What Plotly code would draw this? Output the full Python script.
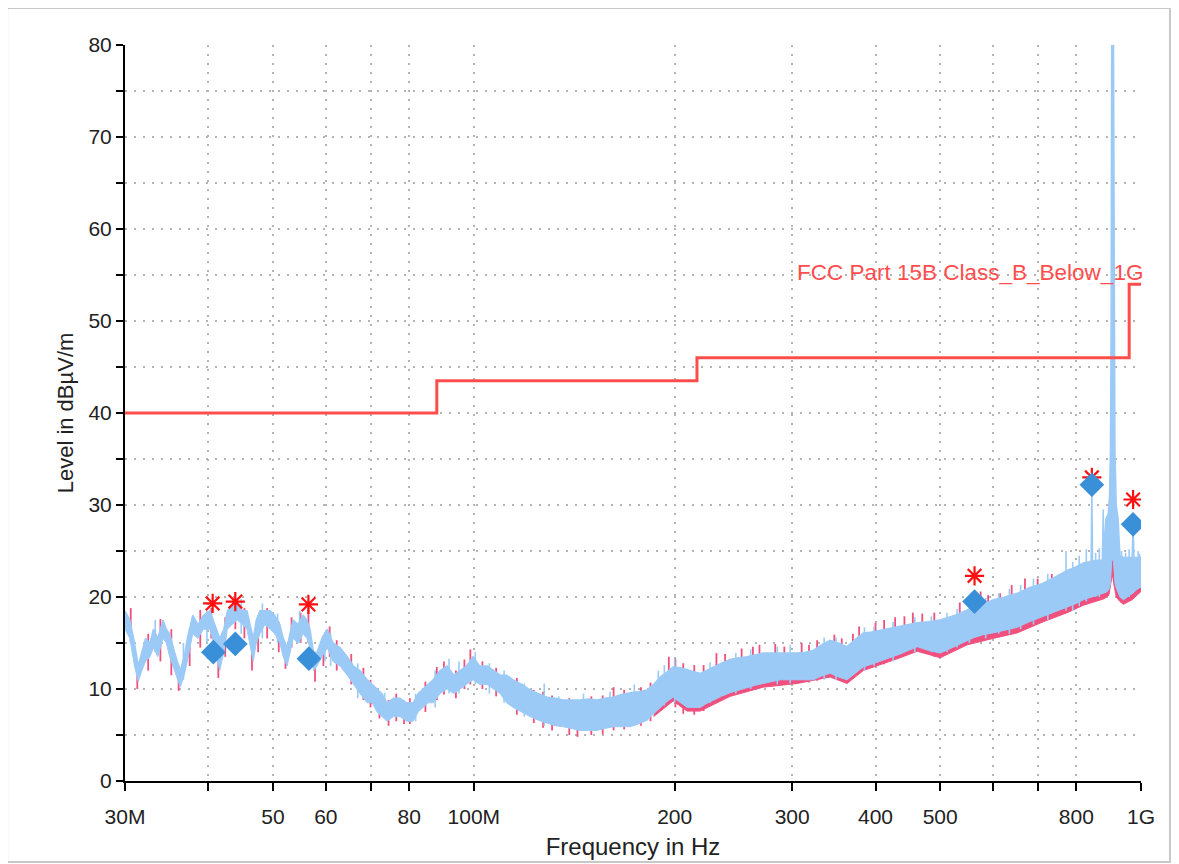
import plotly.graph_objects as go

# ---------------- data (frequency in MHz, level in dBµV/m) ----------------
blue_freq = [30.0, 30.5, 31.0, 31.4, 31.8, 32.2, 32.7, 33.1, 33.6, 34.2,
             34.6, 35.0, 35.6, 36.3, 36.8, 37.2, 37.9, 38.6, 39.3, 40.2,
             40.9, 41.6, 42.2, 42.7, 43.4, 44.2, 45.0, 45.7, 46.7, 47.2,
             47.8, 48.6, 49.5, 50.3, 51.2, 51.8, 52.5, 53.0, 53.6, 54.5,
             55.5, 56.2, 56.8, 57.5, 58.2, 59.2, 60.3, 61.5, 63.0, 64.6,
             66.0, 67.5, 69.2, 70.4, 71.6, 72.8, 74.1, 75.8, 77.5, 79.3,
             81.1, 82.5, 83.9, 85.4, 86.9, 89.0, 91.2, 93.3, 95.4, 97.5,
             99.7, 102.0, 104.7, 107.0, 109.5, 112.0, 114.5, 118.0, 121.4, 125.0,
             128.8, 132.5, 136.1, 140.0, 144.3, 148.5, 153.0, 157.0, 161.7, 166.5,
             171.5, 176.5, 181.9, 186.0, 190.2, 194.5, 198.9, 204.0, 208.8, 213.5,
             218.4, 223.0, 228.4, 235.0, 242.2, 249.5, 256.8, 264.0, 271.5, 280.0,
             287.8, 296.0, 305.2, 314.0, 322.6, 332.0, 342.0, 352.0, 362.6, 373.0,
             383.5, 395.0, 406.6, 420.0, 435.5, 448.0, 461.9, 480.0, 500.1, 525.0,
             548.9, 558.0, 563.0, 568.0, 580.0, 600.4, 625.0, 652.3, 680.0, 713.5,
             745.0, 775.3, 800.0, 819.4, 835.0, 842.0, 844.0, 846.0, 860.0, 875.0,
             877.9, 880.0, 886.0, 893.0, 897.0, 900.0, 902.0, 904.0, 909.0, 911.0,
             914.0, 918.0, 924.0, 930.0, 940.9, 955.0, 970.0, 973.0, 976.0, 985.0,
             1000.0]
blue_hi = [18.5, 17.5, 15.0, 12.5, 14.0, 15.5, 15.0, 16.5, 15.5, 17.5,
           16.5, 16.0, 14.0, 12.0, 13.5, 15.5, 18.0, 17.0, 18.0, 18.5,
           17.0, 15.5, 16.5, 18.5, 19.0, 19.5, 18.5, 18.5, 15.5, 17.5,
           18.5, 18.5, 18.5, 18.0, 17.0, 15.5, 14.5, 16.0, 17.5, 17.0,
           18.0, 17.5, 16.5, 14.0, 14.0, 15.5, 16.5, 15.0, 14.5, 13.5,
           12.5, 12.0, 11.0, 10.5, 10.0, 9.5, 8.5, 9.0, 9.0, 8.5,
           8.5, 9.5, 10.0, 10.5, 11.0, 12.0, 12.5, 11.5, 12.0, 12.5,
           13.5, 12.5, 12.5, 12.0, 11.5, 11.5, 11.0, 10.5, 9.9, 9.5,
           9.1, 9.0, 8.8, 8.8, 8.8, 8.9, 8.8, 9.0, 9.1, 9.4,
           9.6, 9.7, 9.9, 10.5, 11.3, 11.8, 12.4, 12.3, 12.1, 11.9,
           11.7, 12.0, 12.4, 12.8, 13.2, 13.4, 13.5, 13.7, 13.9, 13.9,
           13.9, 13.9, 13.9, 14.0, 14.2, 14.8, 15.3, 15.0, 14.6, 15.4,
           16.1, 16.2, 16.4, 16.6, 16.8, 17.0, 17.2, 17.3, 17.5, 18.0,
           18.6, 18.8, 19.5, 19.0, 19.2, 19.7, 20.0, 20.4, 21.0, 21.5,
           22.2, 22.9, 23.3, 23.7, 23.8, 23.9, 32.3, 23.9, 24.0, 24.0,
           29.5, 24.5, 28.5, 29.0, 31.0, 36.0, 50.0, 85.0, 85.0, 50.0,
           36.0, 30.0, 28.5, 24.5, 24.3, 24.3, 24.3, 28.0, 24.3, 24.3,
           24.3]
blue_lo = [16.5, 15.5, 12.5, 10.8, 12.0, 13.0, 13.5, 14.5, 13.5, 15.5,
           15.0, 13.5, 12.0, 10.2, 11.5, 13.0, 16.0, 15.5, 16.5, 16.5,
           14.5, 12.0, 14.0, 16.5, 17.0, 17.5, 17.0, 16.5, 13.0, 15.0,
           16.0, 17.0, 16.5, 16.0, 15.0, 13.5, 12.5, 14.0, 15.5, 15.0,
           16.0, 15.5, 14.5, 12.0, 12.5, 13.5, 14.5, 13.0, 12.5, 11.5,
           10.5, 9.5, 8.5, 8.5, 7.5, 7.0, 6.5, 7.0, 7.0, 6.5,
           6.5, 7.5, 8.0, 8.5, 8.5, 9.5, 10.0, 9.5, 10.0, 10.5,
           11.0, 10.5, 10.5, 10.0, 9.5, 8.5, 8.0, 7.5, 7.0, 6.6,
           6.3, 6.0, 5.9, 5.7, 5.5, 5.5, 5.5, 5.7, 5.9, 5.9,
           5.9, 6.2, 6.6, 7.3, 8.0, 8.6, 9.1, 8.5, 8.0, 8.0,
           8.0, 8.4, 8.8, 9.2, 9.6, 9.9, 10.2, 10.4, 10.6, 10.8,
           11.0, 11.0, 11.0, 11.0, 11.0, 11.4, 11.7, 11.3, 11.0, 11.7,
           12.4, 12.7, 13.0, 13.4, 13.8, 14.2, 14.6, 14.2, 13.9, 14.6,
           15.3, 15.5, 15.6, 15.7, 15.9, 16.1, 16.4, 16.7, 17.3, 17.9,
           18.4, 18.9, 19.3, 19.7, 19.9, 20.0, 20.0, 20.0, 20.2, 20.4,
           20.4, 20.4, 20.5, 20.7, 21.0, 21.5, 22.5, 24.0, 24.0, 22.5,
           21.5, 21.0, 20.5, 20.0, 19.7, 20.0, 20.4, 20.4, 20.5, 20.8,
           21.1]

# blue trace: isolated narrow peaks above/below the band
bspike_freq = [33.3, 36.7, 39.8, 44.8, 48.2, 50.8, 54.8, 59.8, 61.0, 67.0,
               73.5, 81.8, 87.5, 91.8, 95.0, 100.5, 105.5, 111.0, 119.0, 127.5,
               134.0, 146.0, 160.0, 174.0, 189.0, 193.0, 200.0, 226.0, 247.0, 260.0,
               285.0, 298.0, 335.0, 349.0, 385.0, 398.0, 425.0, 458.0, 485.0, 512.0,
               530.0, 553.0, 585.0, 612.0, 635.0, 660.0, 690.0, 725.0, 772.0, 790.0,
               808.0, 828.0, 855.0, 866.0, 935.0, 948.0, 960.0, 990.0, 995.0]
bspike_lo = [14.0, 11.0, 15.0, 16.0, 15.5, 15.0, 15.0, 13.0, 12.5, 9.0,
             7.0, 6.5, 8.0, 9.5, 9.5, 10.5, 9.5, 8.5, 7.0, 6.0,
             6.0, 5.5, 5.8, 6.0, 8.0, 8.2, 8.5, 8.5, 9.5, 10.0,
             10.5, 10.6, 11.0, 11.0, 12.0, 12.5, 13.0, 14.0, 14.0, 14.0,
             14.5, 15.0, 15.5, 16.0, 16.0, 16.5, 17.0, 17.5, 18.5, 18.5,
             19.0, 19.5, 20.0, 20.0, 20.0, 20.0, 20.0, 21.0, 21.0]
bspike_hi = [17.5, 15.0, 18.5, 19.8, 19.3, 18.2, 18.5, 16.2, 16.0, 12.8,
             9.6, 9.5, 12.0, 13.3, 13.0, 14.0, 12.8, 12.0, 10.6, 10.6,
             9.2, 9.5, 9.7, 10.5, 12.0, 12.6, 13.3, 12.9, 13.9, 14.3,
             14.6, 14.8, 15.6, 15.6, 16.7, 16.8, 17.3, 17.8, 17.9, 18.3,
             18.7, 19.3, 19.9, 20.4, 20.9, 21.3, 22.0, 22.5, 25.0, 23.8,
             24.5, 25.2, 24.8, 25.3, 25.0, 24.8, 25.2, 25.0, 24.7]

# pink trace: band (visible mainly as its lower edge) and narrow peaks
pink_freq = [186.0, 190.2, 198.9, 208.8, 218.4, 242.2, 271.5, 305.2, 342.0, 362.6,
             383.5, 435.5, 461.9, 500.1, 548.9, 600.4, 652.3, 713.5, 775.3, 819.4,
             860.0, 880.0, 895.0, 902.0, 906.0, 910.0, 918.0, 930.0, 940.9, 970.0,
             1000.0]
pink_hi = [9.5, 10.3, 11.4, 11.1, 10.7, 12.2, 12.9, 12.9, 14.3, 13.6,
           15.1, 15.8, 16.2, 16.5, 17.6, 18.7, 19.4, 20.5, 21.9, 22.7,
           23.0, 23.2, 24.0, 25.5, 26.3, 25.5, 24.0, 23.3, 23.3, 23.3,
           23.3]
pink_lo = [7.0, 7.6, 8.7, 7.6, 7.6, 9.2, 10.2, 10.6, 11.3, 10.6,
           12.0, 13.4, 14.1, 13.4, 14.8, 15.5, 16.1, 17.3, 18.3, 19.1,
           19.6, 19.8, 20.2, 21.5, 22.5, 21.5, 20.0, 19.5, 19.2, 19.7,
           20.6]

pspike_freq = [30.6, 31.3, 32.5, 33.9, 35.2, 36.1, 37.5, 38.9, 40.4, 41.4,
               42.4, 43.9, 45.3, 46.5, 47.5, 49.0, 51.0, 52.2, 53.3, 55.0,
               56.5, 57.8, 59.5, 60.8, 62.3, 65.5, 68.3, 70.0, 72.2, 74.5,
               76.5, 78.6, 80.2, 84.6, 88.0, 90.2, 94.0, 96.8, 98.8, 103.0,
               108.0, 116.0, 123.0, 127.0, 131.0, 139.0, 143.0, 150.0, 156.0, 162.0,
               168.0, 178.0, 184.0, 196.0, 200.5, 206.0, 214.0, 221.0, 231.0, 238.0,
               252.0, 262.0, 268.0, 283.0, 292.0, 310.0, 318.0, 327.0, 347.0, 356.0,
               370.0, 378.0, 400.0, 412.0, 428.0, 442.0, 455.0, 470.0, 490.0, 535.0,
               575.0, 590.0, 615.0, 640.0, 670.0, 700.0, 735.0]
pspike_lo = [15.0, 10.0, 12.0, 13.0, 11.5, 9.8, 12.5, 14.5, 15.5, 11.2,
             13.5, 16.5, 15.5, 12.0, 14.0, 15.5, 14.0, 12.2, 14.5, 15.0,
             15.0, 10.8, 12.5, 13.5, 12.0, 10.5, 8.8, 8.0, 6.8, 6.0,
             6.5, 6.2, 6.2, 7.5, 8.8, 9.4, 9.0, 10.0, 10.5, 10.0,
             9.2, 7.2, 6.3, 5.8, 5.5, 5.0, 4.8, 5.0, 5.1, 5.5,
             5.6, 6.0, 6.5, 8.5, 8.0, 7.3, 7.2, 7.6, 8.5, 9.0,
             9.8, 10.0, 10.2, 10.5, 10.6, 10.7, 10.7, 10.9, 11.2, 10.9,
             11.3, 11.9, 12.5, 12.7, 13.2, 13.6, 14.0, 13.9, 13.5, 14.8,
             15.6, 15.7, 16.0, 16.3, 16.8, 17.2, 17.8]
pspike_hi = [18.8, 13.0, 16.0, 17.6, 16.5, 12.5, 16.5, 18.6, 18.8, 15.5,
             17.8, 19.6, 18.8, 15.0, 18.0, 18.8, 17.3, 14.5, 17.8, 18.3,
             18.8, 13.5, 15.8, 16.8, 15.3, 13.8, 12.3, 11.0, 9.5, 8.8,
             9.5, 8.6, 9.0, 10.8, 12.4, 13.0, 12.0, 13.2, 14.3, 13.0,
             12.3, 11.2, 9.9, 9.7, 9.3, 9.0, 8.2, 9.2, 9.3, 10.2,
             9.9, 10.2, 10.7, 13.5, 13.3, 12.8, 12.6, 12.6, 13.9, 13.8,
             14.4, 14.6, 14.8, 14.9, 14.6, 15.0, 14.8, 15.3, 15.9, 15.5,
             16.0, 16.8, 17.2, 17.5, 17.8, 17.9, 18.3, 18.2, 18.3, 19.4,
             20.6, 20.2, 20.4, 21.3, 22.0, 22.0, 22.5]

limit_freq = [30.0, 88.0, 216.0, 960.0, 1000.0]
limit_level = [40.0, 43.5, 46.0, 54.0, 54.0]
limit_name = "FCC Part 15B Class_B_Below_1G"

star_freq = [40.6, 43.9, 56.5, 563.0, 844.0, 973.0]
star_level = [19.3, 19.5, 19.2, 22.3, 33.0, 30.6]
diamond_freq = [40.7, 43.9, 56.6, 563.0, 844.0, 973.0]
diamond_level = [14.0, 14.9, 13.3, 19.5, 32.2, 27.9]

x_tick_vals = [30, 40, 50, 60, 70, 80, 100, 200, 300, 400, 500, 600, 700, 800, 1000]
x_tick_text = ["30M", "", "50", "60", "", "80", "100M", "200", "300", "400", "500", "", "", "800", "1G"]
y_tick_vals = list(range(0, 81, 5))
y_tick_text = [str(v) if v % 10 == 0 else "" for v in y_tick_vals]

# ---------------- styling ----------------
PINK = "#f0507e"
BLUE = "#9ccaf7"
LIMIT = "#ff4d4d"
DIAMOND = "#3a8fd9"
FONT = "Liberation Sans, Arial, sans-serif"


def segments(freqs, los, his):
    xs, ys = [], []
    for f, lo, hi in zip(freqs, los, his):
        xs += [f, f, None]
        ys += [lo, hi, None]
    return xs, ys


fig = go.Figure()

# pink band + pink peaks (underneath the blue trace)
fig.add_trace(go.Scatter(x=pink_freq, y=pink_lo, mode="lines",
                         line=dict(width=1, color=PINK), hoverinfo="skip"))
fig.add_trace(go.Scatter(x=pink_freq, y=pink_hi, mode="lines", fill="tonexty",
                         fillcolor=PINK, line=dict(width=0.5, color=PINK), hoverinfo="skip"))
px, py = segments(pspike_freq, pspike_lo, pspike_hi)
fig.add_trace(go.Scatter(x=px, y=py, mode="lines", line=dict(width=1.8, color=PINK),
                         hoverinfo="skip"))

# blue band + blue peaks
fig.add_trace(go.Scatter(x=blue_freq, y=blue_lo, mode="lines",
                         line=dict(width=1, color=BLUE), hoverinfo="skip"))
fig.add_trace(go.Scatter(x=blue_freq, y=blue_hi, mode="lines", fill="tonexty",
                         fillcolor=BLUE, line=dict(width=1.5, color=BLUE), hoverinfo="skip"))
bx, by = segments(bspike_freq, bspike_lo, bspike_hi)
fig.add_trace(go.Scatter(x=bx, y=by, mode="lines", line=dict(width=1.6, color=BLUE),
                         hoverinfo="skip"))

# limit line
fig.add_trace(go.Scatter(x=limit_freq, y=limit_level, mode="lines", line_shape="hv",
                         line=dict(width=3, color=LIMIT), hoverinfo="skip"))

# markers
fig.add_trace(go.Scatter(x=star_freq, y=star_level, mode="markers",
                         marker=dict(symbol="asterisk", size=16, color="#ff1010",
                                     line=dict(width=2.2, color="#ff1010"))))
fig.add_trace(go.Scatter(x=diamond_freq, y=diamond_level, mode="markers",
                         marker=dict(symbol="diamond", size=19, color=DIAMOND,
                                     line=dict(width=0))))

fig.add_annotation(x=1.004, xref="paper", y=55.3, yref="y", text=limit_name,
                   showarrow=False, xanchor="right", yanchor="middle",
                   font=dict(family=FONT, size=22.5, color=LIMIT))

# outer frame
fig.add_shape(type="rect", xref="paper", yref="paper", x0=-0.116, x1=1.0285,
              y0=-0.110, y1=1.0503, line=dict(color="#c8c8c8", width=2),
              fillcolor="rgba(0,0,0,0)", layer="below")

grid = dict(showgrid=True, gridcolor="#b4b4b4", gridwidth=1.5, griddash="2px,7px")

fig.update_xaxes(type="log", range=[1.47712, 3.0], tickvals=x_tick_vals, ticktext=x_tick_text,
                 tickangle=0, ticks="outside", ticklen=8, tickwidth=1.8, tickcolor="black",
                 showline=True, linecolor="black", linewidth=2, zeroline=False,
                 ticklabelstandoff=8,
                 tickfont=dict(family=FONT, size=21, color="#222"),
                 title=dict(text="Frequency in Hz", standoff=11,
                            font=dict(family=FONT, size=24, color="#222")),
                 automargin=False, **grid)
fig.update_yaxes(range=[0, 80], tickvals=y_tick_vals, ticktext=y_tick_text,
                 ticks="outside", ticklen=7, tickwidth=1.8, tickcolor="black",
                 showline=True, linecolor="black", linewidth=2, zeroline=False,
                 tickfont=dict(family=FONT, size=21, color="#222"),
                 title=dict(text="Level in dBµV/m", standoff=9,
                            font=dict(family=FONT, size=22, color="#222")),
                 automargin=False, **grid)

fig.update_layout(width=1171, height=856, showlegend=False,
                  margin=dict(l=117, r=38, t=37, b=83),
                  paper_bgcolor="white", plot_bgcolor="white")

fig.write_html("out.html")
